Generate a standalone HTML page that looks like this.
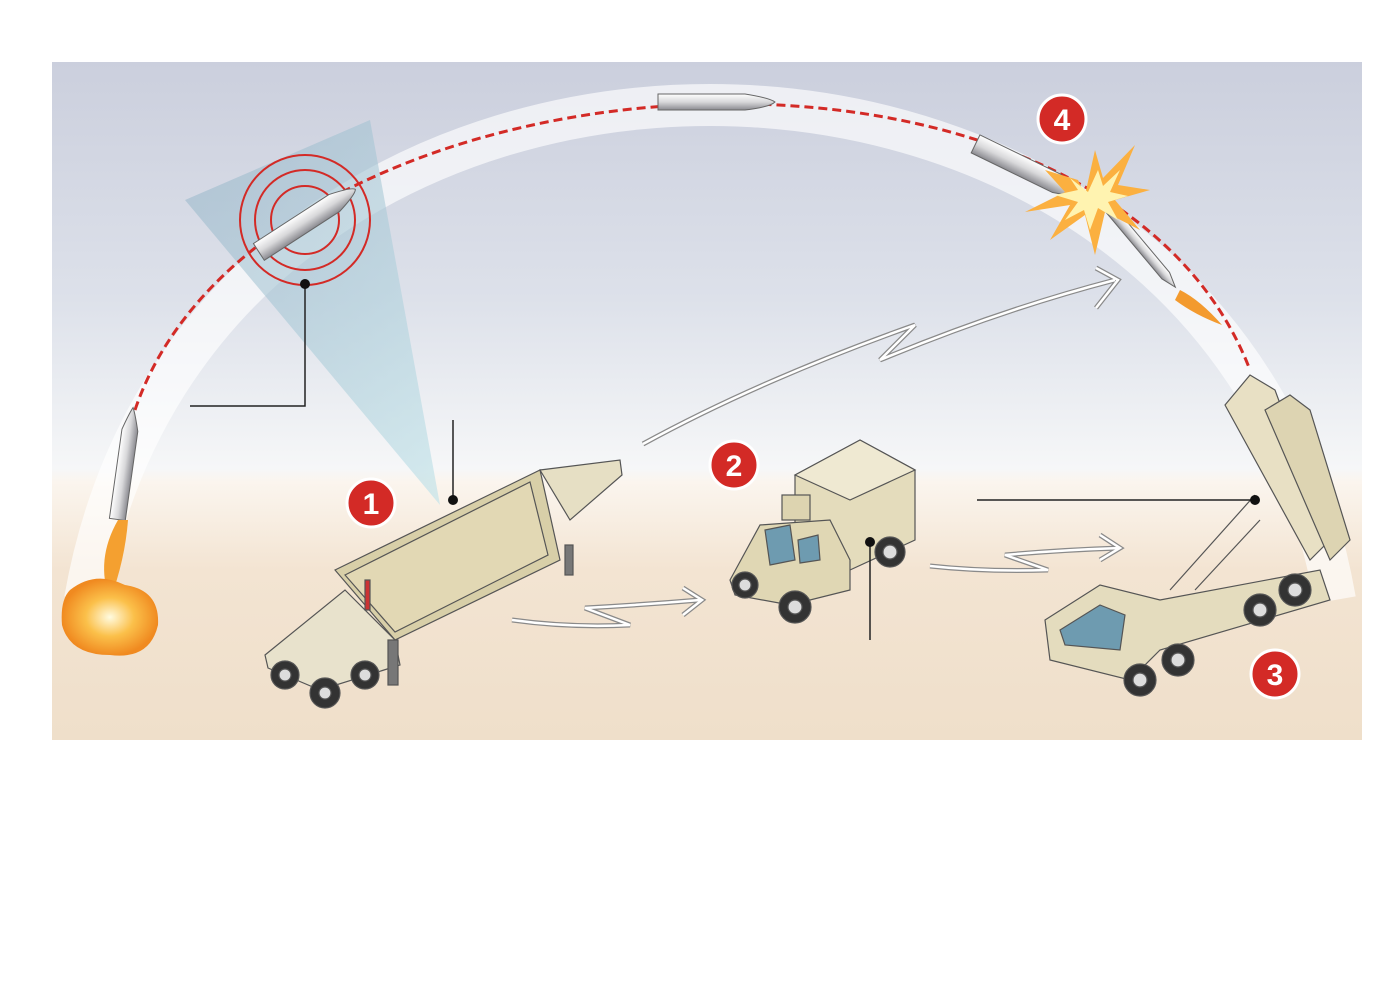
<!DOCTYPE html>
<html><head><meta charset="utf-8"><style>
html,body{margin:0;padding:0;background:#fff;}
svg{display:block;font-family:"Liberation Sans",sans-serif;}
</style></head><body>
<svg width="1400" height="1006" viewBox="0 0 1400 1006" xmlns="http://www.w3.org/2000/svg">
<defs>
<linearGradient id="sky" x1="0" y1="0" x2="0" y2="1">
<stop offset="0" stop-color="#cbcfdd"/>
<stop offset="0.35" stop-color="#dde1ea"/>
<stop offset="0.6" stop-color="#f6f7f8"/>
<stop offset="0.62" stop-color="#fbf5ee"/>
<stop offset="0.75" stop-color="#f3e4d2"/>
<stop offset="1" stop-color="#efdfca"/>
</linearGradient>
<linearGradient id="cone" x1="0" y1="0" x2="1" y2="1">
<stop offset="0" stop-color="#8fb0c4" stop-opacity="0.5"/>
<stop offset="1" stop-color="#c4e4ea" stop-opacity="0.7"/>
</linearGradient>
<linearGradient id="mis" x1="0" y1="0" x2="0" y2="1">
<stop offset="0" stop-color="#fff"/><stop offset="0.5" stop-color="#d8d8da"/><stop offset="1" stop-color="#8a8a90"/>
</linearGradient>
<radialGradient id="fire"><stop offset="0" stop-color="#fffbe0"/><stop offset="0.5" stop-color="#fbc04a"/><stop offset="1" stop-color="#f08a20"/></radialGradient>
</defs>
<rect x="52" y="62" width="1310" height="678" fill="url(#sky)"/>
<path d="M85 600 C200 -60,1220 -60,1335 600" fill="none" stroke="#fff" stroke-opacity="0.65" stroke-width="42"/>
<polygon points="440,505 185,200 370,120" fill="url(#cone)"/>
<path d="M135 410 C260 40,1100 -20,1250 370" fill="none" stroke="#d32a26" stroke-width="3" stroke-dasharray="9,5"/>
<g fill="none" stroke="#d32a26" stroke-width="2">
<circle cx="305" cy="220" r="65"/><circle cx="305" cy="220" r="50"/><circle cx="305" cy="220" r="34"/>
</g>
<g transform="translate(305,222) rotate(-33)"><path d="M-55,-10 L35,-10 Q58,-4 60,0 Q58,4 35,10 L-55,10 Z" fill="url(#mis)" stroke="#666"/></g>
<path d="M658,94 L745,94 Q770,98 775,102 Q770,107 745,110 L658,110 Z" fill="url(#mis)" stroke="#666"/>
<g transform="translate(1025,168) rotate(26)"><path d="M-55,-10 L35,-10 Q58,-4 62,0 Q58,4 35,10 L-55,10 Z" fill="url(#mis)" stroke="#666"/></g>
<g transform="translate(125,465) rotate(-82)"><path d="M-55,-8 L35,-8 Q52,-3 58,0 Q52,3 35,8 L-55,8 Z" fill="url(#mis)" stroke="#666"/></g>
<path d="M118 520 Q95 560 110 600 Q125 560 128 520Z" fill="#f4a030"/>
<path d="M70 590 Q95 570 125 585 Q160 590 158 625 Q150 660 110 655 Q70 655 62 625 Q60 600 70 590Z" fill="url(#fire)"/>
<g transform="translate(1140,245) rotate(50)"><path d="M-60,-5 L40,-5 L55,0 L40,5 L-60,5 Z" fill="url(#mis)" stroke="#666"/></g>
<path d="M1180 290 Q1200 300 1222 325 Q1195 315 1175 300Z" fill="#f39a2e"/>
<polygon points="1085,195 1095,150 1103,178 1135,145 1118,185 1150,190 1115,200 1140,230 1105,212 1095,255 1085,215 1050,240 1070,205 1025,212 1065,192 1045,170 1078,180" fill="#fbb040"/>
<polygon points="1088,192 1098,170 1103,186 1120,170 1110,192 1128,196 1108,202 1118,220 1098,208 1090,230 1084,210 1065,220 1078,202 1055,195 1078,190 1070,178" fill="#fff3b0"/>
<g fill="none" stroke="#8a8a8a" stroke-width="5" stroke-linejoin="miter">
<path d="M643 444 Q760 380 915 325 L880 360 Q1000 310 1115 280"/>
<path d="M1096 268 L1118 280 L1096 308"/>
<path d="M512 620 Q570 628 630 625 L585 608 Q640 605 700 600"/>
<path d="M683 588 L702 600 L683 615"/>
<path d="M930 566 Q985 572 1048 570 L1005 555 Q1060 550 1120 548"/>
<path d="M1100 535 L1120 548 L1100 560"/>
</g>
<g fill="none" stroke="#fff" stroke-width="2.5">
<path d="M643 444 Q760 380 915 325 L880 360 Q1000 310 1115 280"/>
<path d="M1096 268 L1118 280 L1096 308"/>
<path d="M512 620 Q570 628 630 625 L585 608 Q640 605 700 600"/>
<path d="M683 588 L702 600 L683 615"/>
<path d="M930 566 Q985 572 1048 570 L1005 555 Q1060 550 1120 548"/>
<path d="M1100 535 L1120 548 L1100 560"/>
</g>
<g stroke="#555" stroke-width="1.2">
<polygon points="540,470 620,460 622,475 570,520" fill="#e6dfc4"/>
<polygon points="335,570 540,470 560,560 395,640" fill="#d8cfa8"/>
<polygon points="345,575 530,482 548,555 395,632" fill="#e2d8b4"/>
<polygon points="265,655 345,590 395,640 400,665 320,690 268,668" fill="#e8e2cc"/>
<rect x="565" y="545" width="8" height="30" fill="#777"/>
<rect x="388" y="640" width="10" height="45" fill="#777"/>
<circle cx="285" cy="675" r="14" fill="#333"/><circle cx="325" cy="693" r="15" fill="#333"/><circle cx="365" cy="675" r="14" fill="#333"/>
<circle cx="285" cy="675" r="6" fill="#ddd"/><circle cx="325" cy="693" r="6" fill="#ddd"/><circle cx="365" cy="675" r="6" fill="#ddd"/>
<rect x="365" y="580" width="5" height="30" fill="#c33"/>
</g>
<g stroke="#555" stroke-width="1.2">
<polygon points="795,475 860,440 915,470 915,540 850,570 795,540" fill="#e4dcbc"/>
<polygon points="795,475 860,440 915,470 850,500" fill="#efe9d2"/>
<polygon points="730,580 760,525 830,520 850,560 850,590 790,605 735,595" fill="#e0d7b4"/>
<polygon points="765,530 790,525 795,560 770,565" fill="#6e9bb0"/>
<polygon points="798,540 818,535 820,560 800,563" fill="#6e9bb0"/>
<rect x="782" y="495" width="28" height="25" fill="#ddd4b0"/>
<circle cx="745" cy="585" r="13" fill="#333"/><circle cx="795" cy="607" r="16" fill="#333"/><circle cx="890" cy="552" r="15" fill="#333"/>
<circle cx="745" cy="585" r="6" fill="#ddd"/><circle cx="795" cy="607" r="7" fill="#ddd"/><circle cx="890" cy="552" r="7" fill="#ddd"/>
</g>
<g stroke="#555" stroke-width="1.2">
<polygon points="1225,405 1250,375 1275,390 1330,540 1310,560" fill="#e8e0c4"/>
<polygon points="1265,410 1290,395 1310,410 1350,540 1330,560" fill="#ddd4b2"/>
<line x1="1170" y1="590" x2="1255" y2="495"/>
<line x1="1195" y1="590" x2="1260" y2="520"/>
<polygon points="1045,620 1100,585 1160,600 1320,570 1330,600 1160,650 1130,680 1050,660" fill="#e4dcbe"/>
<polygon points="1060,630 1100,605 1125,615 1120,650 1065,645" fill="#6e9bb0"/>
<circle cx="1140" cy="680" r="16" fill="#333"/><circle cx="1178" cy="660" r="16" fill="#333"/><circle cx="1260" cy="610" r="16" fill="#333"/><circle cx="1295" cy="590" r="16" fill="#333"/>
<circle cx="1140" cy="680" r="7" fill="#ddd"/><circle cx="1178" cy="660" r="7" fill="#ddd"/><circle cx="1260" cy="610" r="7" fill="#ddd"/><circle cx="1295" cy="590" r="7" fill="#ddd"/>
</g>
<g stroke="#222" stroke-width="1.5" fill="none">
<polyline points="190,406 305,406 305,284"/>
<line x1="453" y1="420" x2="453" y2="500"/>
<line x1="870" y1="640" x2="870" y2="542"/>
<line x1="977" y1="500" x2="1255" y2="500"/>
</g>
<g fill="#111"><circle cx="305" cy="284" r="5"/><circle cx="453" cy="500" r="5"/><circle cx="870" cy="542" r="5"/><circle cx="1255" cy="500" r="5"/></g>
<g font-weight="bold" font-size="30" fill="#fff" text-anchor="middle">
<circle cx="371" cy="503" r="24" fill="#d32a26" stroke="#fff" stroke-width="3"/><text x="371" y="514">1</text>
<circle cx="734" cy="465" r="24" fill="#d32a26" stroke="#fff" stroke-width="3"/><text x="734" y="476">2</text>
<circle cx="1275" cy="674" r="24" fill="#d32a26" stroke="#fff" stroke-width="3"/><text x="1275" y="685">3</text>
<circle cx="1062" cy="119" r="24" fill="#d32a26" stroke="#fff" stroke-width="3"/><text x="1062" y="130">4</text>
</g>
</svg>
</body></html>
